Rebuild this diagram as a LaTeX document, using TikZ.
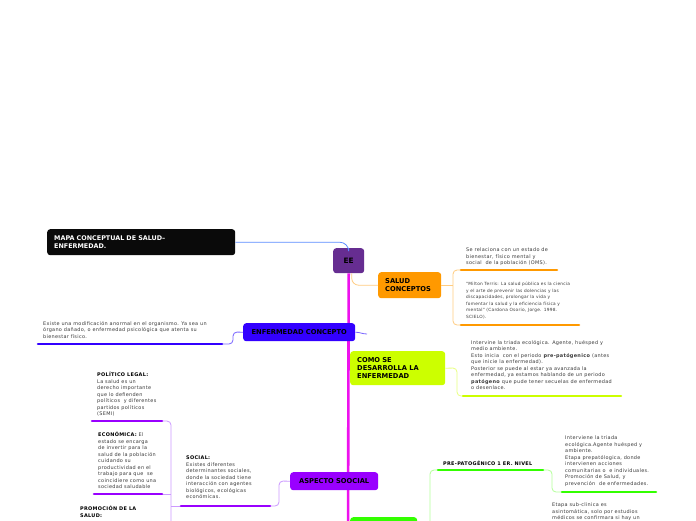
\documentclass[tikz,border=0pt]{standalone}
\usepackage{fontspec}
\setmainfont{DejaVu Sans}
\newfontfamily\notefont[LetterSpace=6]{DejaVu Sans}
\usepackage{xcolor}

\definecolor{titleblack}{HTML}{0A0A0A}
\definecolor{eepurple}{HTML}{662D91}
\definecolor{trunkpink}{HTML}{EE11EE}
\definecolor{saludorange}{HTML}{FF9900}
\definecolor{saludlight}{HTML}{FFCC80}
\definecolor{enfblue}{HTML}{3300FF}
\definecolor{enflight}{HTML}{7A66FF}
\definecolor{comolime}{HTML}{CCFF00}
\definecolor{comolight}{HTML}{E8FF80}
\definecolor{socpurple}{HTML}{9900FF}
\definecolor{soclight}{HTML}{CC99FF}
\definecolor{pregreen}{HTML}{33FF00}
\definecolor{prelight}{HTML}{B3FF99}
\definecolor{titleline}{HTML}{5B8CFF}
\definecolor{bodygray}{HTML}{3A3A3A}

\tikzset{
  topic/.style={rounded corners=3pt, anchor=north west, inner ysep=0pt, inner xsep=7pt, align=left, text=black, font=\fontsize{6.7}{8.2}\selectfont\bfseries},
  note/.style={anchor=north west, inner sep=0pt, align=left, text=bodygray, font=\notefont\fontsize{4.95}{6.5}\selectfont},
  smallnote/.style={note, font=\notefont\fontsize{4.3}{6.5}\selectfont},
  headnote/.style={note, text=black, font=\notefont\fontsize{4.95}{6.4}\selectfont\bfseries},
  uline/.style={line width=2.6pt, line cap=round},
  link/.style={line width=0.8pt, rounded corners=4pt}
}

\begin{document}
\begin{tikzpicture}[x=1pt, y=-1pt]
\useasboundingbox[fill=white] (0,0) rectangle (696,520);

\node[topic, fill=titleblack, text=white, minimum width=188, minimum height=26, text width=174, font=\fontsize{6.4}{8}\selectfont\bfseries] (title) at (47,229) {MAPA CONCEPTUAL DE SALUD--\\ENFERMEDAD.};
\node[topic, fill=eepurple, minimum width=31, minimum height=25, align=center, inner xsep=0pt, font=\fontsize{7.4}{8.2}\selectfont\bfseries] (EE) at (333,248) {EE};
\coordinate (trunkend) at (348,540);
\draw[line width=2.6pt, trunkpink] (EE.south) -- (trunkend);
\draw[link, titleline, rounded corners=9pt] (title.east) -| (EE.north);

\node[topic, fill=saludorange, minimum width=63, minimum height=26, text width=49] (salud) at (378,272) {SALUD\\CONCEPTOS};
\node[topic, fill=enfblue, minimum width=112, minimum height=18, align=center, inner xsep=0pt] (enf) at (243,323) {ENFERMEDAD CONCEPTO};
\node[topic, fill=comolime, minimum width=95, minimum height=34, text width=81] (como) at (350,351) {COMO SE\\DESARROLLA LA\\ENFERMEDAD};
\node[topic, fill=socpurple, minimum width=88, minimum height=18, align=center, inner xsep=0pt] (aspecto) at (290,472) {ASPECTO SOOCIAL};
\node[topic, fill=pregreen, minimum width=67, minimum height=28, text width=53] (patog) at (350,517) {};

\coordinate (salA1) at (461,270);
\coordinate (salB1) at (557,270);
\coordinate (salA2) at (461,325);
\coordinate (salB2) at (579,325);
\coordinate (salbr) at (453,270);
\draw[link, saludlight, rounded corners=7pt] ([xshift=3pt]EE.south) |- (salud.west);
\draw[link, saludlight] (salA1) -- (salbr) |- (salA2);
\draw[link, saludlight] (salud.east) -- (salud.east -| salbr);
\draw[uline, saludorange] (salA1) -- (salB1);
\draw[uline, saludorange] (salA2) -- (salB2);
\node[note] (salnote1) at (466,248) {Se relaciona con un estado de\\bienestar, físico mental y\\social~ de la población (OMS).};
\node[smallnote] (salnote2) at (466,282) {"Milton Terris: La salud pública es la ciencia\\y el arte de prevenir las dolencias y las\\discapacidades, prolongar la vida y\\fomentar la salud y la eficiencia física y\\mental" (Cardona Osorio, Jorge. 1998.\\SCIELO).};

\coordinate (enfA) at (38,344);
\coordinate (enfB) at (222,344);
\coordinate (enfR) at (367,334);
\coordinate (enfbr) at (233,332);
\draw[link, enflight] (enf.east) to[out=0, in=180] (enfR);
\draw[link, enflight] (enf.west) -- (enfbr) |- (enfB);
\draw[uline, enfblue] (enfA) -- (enfB);
\node[note] (enfnote) at (43,321) {Existe una modificación anormal en el organismo. Ya sea un\\órgano dañado, o enfermedad psicológica que atenta su\\bienestar físico.};

\coordinate (comoA) at (463,396);
\coordinate (comoB) at (621,396);
\coordinate (comobr) at (457,368);
\draw[link, comolight] (como.east) -- (comobr) |- (comoA);
\draw[uline, comolime] (comoA) -- (comoB);
\node[note] (comonote) at (471,340) {Intervine la triada ecológica. Agente, huésped y\\medio ambiente.\\Esto inicia~ con el periodo \textbf{pre-patógenico} (antes\\que inicie la enfermedad).\\Posterior se puede al estar ya avanzada la\\enfermedad, ya estamos hablando de un periodo\\\textbf{patógeno} que pude tener secuelas de enfermedad\\o desenlace.};

\coordinate (socA) at (181,506);
\coordinate (socB) at (270,506);
\coordinate (socbr) at (279,481);
\coordinate (polA) at (92,421);
\coordinate (polB) at (162,421);
\coordinate (ecoA) at (94,494);
\coordinate (ecoB) at (162,494);
\coordinate (polbr) at (171,421);
\coordinate (polend) at (171,540);
\draw[link, soclight] (aspecto.west) -- (socbr) |- (socB);
\draw[link, soclight] (polB) -- (polbr) -- (polend);
\draw[link, soclight] (ecoB) -- (ecoB -| polbr);
\draw[link, soclight] (socA) -- (socA -| polbr);
\draw[uline, socpurple] (socA) -- (socB);
\draw[uline, socpurple] (polA) -- (polB);
\draw[uline, socpurple] (ecoA) -- (ecoB);
\node[note] (socnote) at (186,456) {\textbf{\color{black}SOCIAL:}\\Existes diferentes\\determinantes sociales,\\donde la sociedad tiene\\interacción con agentes\\biológicos, ecológicas\\económicas.};
\node[note] (polnote) at (97,372) {\textbf{\color{black}POLÍTICO LEGAL:}\\La salud es un\\derecho importante\\que lo defienden\\políticos~ y diferentes\\partidos políticos\\(SEMI)};
\node[note] (econote) at (98,432) {\textbf{\color{black}ECONÓMICA:} El\\estado se encarga\\de invertir para la\\salud de la población\\cuidando su\\productividad en el\\trabajo para que~ se\\coincidiere como una\\sociedad saludable};
\node[headnote] (promnote) at (80,506) {PROMOCIÓN DE LA\\SALUD:};

\coordinate (preA) at (438,470);
\coordinate (preB) at (543,470);
\coordinate (prebr) at (430,540);
\coordinate (subA) at (562,492);
\coordinate (subB) at (656,492);
\coordinate (subbr) at (552,470);
\draw[link, prelight] (patog.east) -| (prebr);
\draw[link, prelight] (preA) -| (prebr);
\draw[link, prelight] (preB) -- (subbr) |- (subA);
\draw[uline, pregreen] (preA) -- (preB);
\draw[uline, pregreen] (subA) -- (subB);
\node[headnote] (prenote) at (443,461) {PRE-PATOGÉNICO 1 ER. NIVEL};
\node[note] (subnote) at (565,436) {Interviene la triada\\ecológica.Agente huésped y\\ambiente.\\Etapa prepatólogica, donde\\intervienen acciones\\comunitarias o~ e individuales.\\Promoción de Salud, y\\prevención~ de enfermedades.};
\node[note] (clinnote) at (552,503) {Etapa sub-clinica es\\asintomática, solo por estudios\\médicos se confirmara si hay un};
\end{tikzpicture}
\end{document}
